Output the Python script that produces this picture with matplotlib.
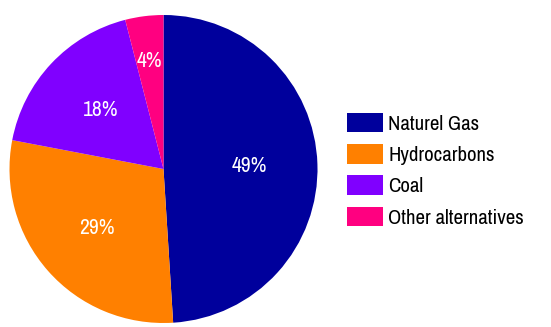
import numpy as np
import matplotlib
matplotlib.use("Agg")
import matplotlib.pyplot as plt

categories = ["Naturel Gas", "Hydrocarbons", "Coal", "Other alternatives"]
values = [49, 29, 18, 4]
colors = ["#00009C", "#FF8000", "#8000FF", "#FF0080"]
label_dist = [0.56, 0.58, 0.56, 0.71]

fam = ["Archivo Narrow", "Roboto Condensed", "Liberation Sans", "DejaVu Sans"]

fig = plt.figure(figsize=(5.51, 3.27), dpi=100)
W, H = 551, 327
cx, cy, r = 163.5, 169.0, 154.0
ax = fig.add_axes([(cx - r) / W, (H - cy - r) / H, 2 * r / W, 2 * r / H])
wedges, _ = ax.pie(values, colors=colors, startangle=90, counterclock=False,
                   radius=1.0, wedgeprops=dict(linewidth=0))
ax.set_xlim(-1, 1)
ax.set_ylim(-1, 1)
ax.set_aspect("equal")
ax.axis("off")

for w, v, d in zip(wedges, values, label_dist):
    ang = np.deg2rad((w.theta1 + w.theta2) / 2)
    ax.text(d * np.cos(ang), d * np.sin(ang), f"{v}%", color="white",
            ha="center", va="center", fontsize=15.5, family=fam)

leg = fig.legend(wedges, categories, loc="upper left",
                 bbox_to_anchor=(347 / W, 1 - 113 / H),
                 frameon=False, prop=dict(family=fam, size=15),
                 handlelength=1.73, handleheight=1.06, handletextpad=0.25,
                 labelspacing=0.5, borderaxespad=0, borderpad=0)

fig.savefig("out.png", dpi=100)
